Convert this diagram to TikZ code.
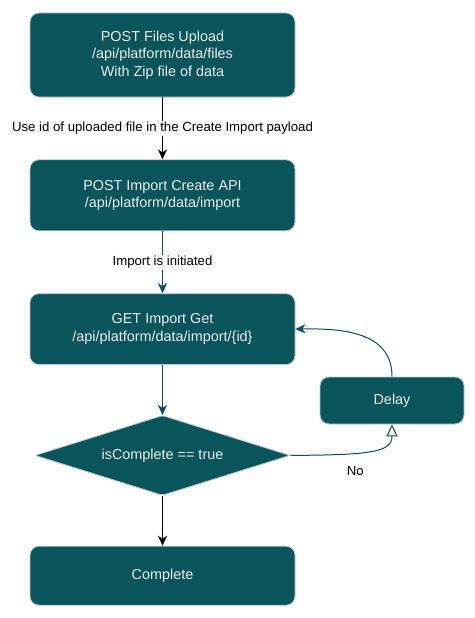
\documentclass[tikz,border=0pt]{standalone}
\usepackage{fontspec}
\setmainfont{Liberation Sans}
\usepackage{tikz}
\usetikzlibrary{positioning,arrows.meta,shapes.geometric}
\definecolor{boxteal}{HTML}{09555B}
\definecolor{boxedge}{HTML}{BAC8D3}
\definecolor{flowblue}{HTML}{0B4D6A}

\begin{document}
\begin{tikzpicture}[x=1pt,y=-1pt,node distance=62pt,
    stepbox/.style={draw=boxedge, fill=boxteal, text=white!93!black, rounded corners=9pt,
        line width=0.8pt, minimum width=265pt, align=center,
        font=\fontsize{14.4}{17.3}\selectfont},
    decision/.style={diamond, aspect=3.19, draw=boxedge, fill=boxteal, text=white!93!black,
        line width=0.8pt, minimum width=255pt, minimum height=80pt, inner sep=0pt,
        rounded corners=2pt, font=\fontsize{14.4}{17.3}\selectfont},
    edgelabel/.style={fill=white, inner sep=1.5pt, font=\fontsize{13.2}{15}\selectfont},
    flow/.style={line width=1pt, -{Stealth[length=10pt,width=9pt,inset=3pt]}}]

    \useasboundingbox (0,0) rectangle (474,618);

    % main column
    \node[stepbox, minimum height=84pt] (upload) at (162.5,55)
        {POST Files Upload\\/api/platform/data/files\\With Zip file of data};
    \node[stepbox, minimum height=71pt, below=62pt of upload] (create)
        {POST Import Create API\\/api/platform/data/import};
    \node[stepbox, minimum height=71pt, below=62pt of create] (get)
        {GET Import Get\\/api/platform/data/import/\{id\}};
    \node[decision, below=50pt of get] (check) {isComplete == true};
    \node[stepbox, minimum height=59pt, below=50pt of check] (done) {Complete};

    % retry loop
    \node[stepbox, minimum width=144pt, minimum height=47pt] (delay) at (392,400.5) {Delay};

    \draw[flow] (upload) -- node[edgelabel] {Use id of uploaded file in the Create Import payload} (create);
    \draw[flow, flowblue] (create) -- node[edgelabel, text=black] {Import is initiated} (get);
    \draw[flow, flowblue] (get) -- (check);
    \draw[flow] (check) -- (done);
    \draw[line width=1pt, flowblue, -{Triangle[open,length=12pt,width=11pt,fill=white]}]
        (check.east) .. controls (372,455) and (392,452) .. (delay.south)
        node[pos=0.35, below=9pt, font=\fontsize{13.2}{15}\selectfont, text=black] {No};
    \draw[flow, flowblue] (delay.north) .. controls (392,335) and (350,328) .. (get.east);
\end{tikzpicture}
\end{document}
